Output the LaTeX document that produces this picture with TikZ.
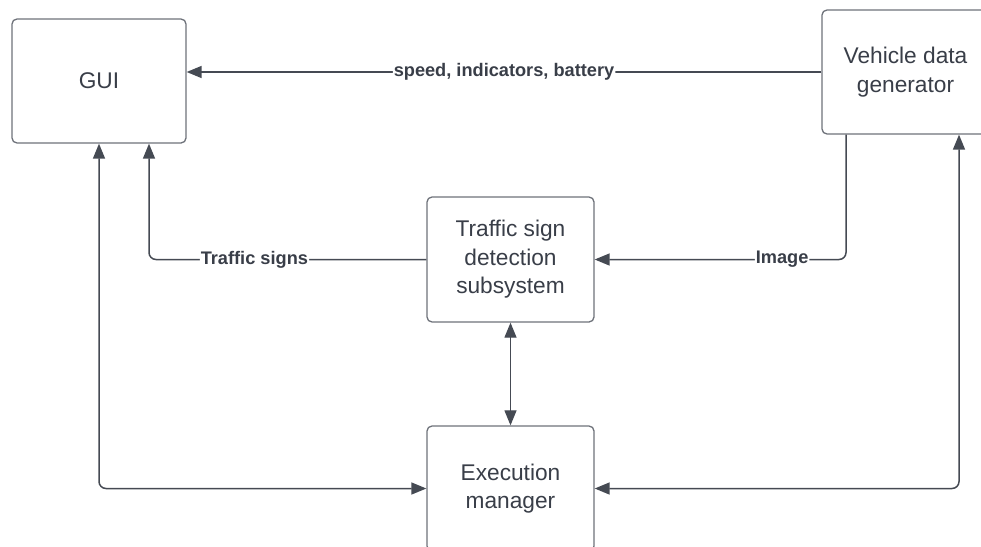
\documentclass[tikz,border=0pt]{standalone}
\usepackage{fontspec}
\setmainfont{Liberation Sans}
\usetikzlibrary{arrows.meta}
\definecolor{boxline}{HTML}{6E727A}
\definecolor{conline}{HTML}{454A53}
\definecolor{txt}{HTML}{393E48}
\tikzset{
  x=1pt, y=1pt,
  blk/.style={draw=boxline, line width=1.3pt, rounded corners=5pt, fill=white,
    minimum width=167pt, minimum height=125pt, align=center, text=txt,
    font=\fontsize{22.7}{28.5}\selectfont, inner sep=0pt},
  con/.style={draw=conline, line width=1.5pt, rounded corners=7pt},
  tip/.style={-{Triangle[length=15pt,width=12pt]}},
  ttip/.style={{Triangle[length=15pt,width=12pt]}-{Triangle[length=15pt,width=12pt]}},
  lbl/.style={fill=white, text=txt, font=\fontsize{18.2}{20}\selectfont\bfseries, inner sep=1pt}
}
\begin{document}
\begin{tikzpicture}
\useasboundingbox (0,0) rectangle (981,-546);
\clip (0,0) rectangle (981,-546);
\node[blk, minimum width=174pt, minimum height=124pt] (gui) at (99,-81) {GUI};
\node[blk, minimum height=124pt] (vdg) at (905.5,-72) {Vehicle data\\generator};
\node[blk] (tsd) at (510.5,-259.5) {Traffic sign\\detection\\subsystem};
\node[blk] (em) at (510.5,-488.5) {Execution\\manager};

\draw[con, tip] (vdg.west) -- node[lbl] {speed, indicators, battery} (gui.east |- vdg.west);
\draw[con, tip] ([xshift=-59.5pt]vdg.south) |- node[lbl, pos=0.627] {Image} (tsd.east);
\draw[con, tip] (tsd.west) -| node[lbl, pos=0.31] {Traffic signs} ([xshift=50pt]gui.south);
\draw[con, ttip, line width=1.2pt] (tsd.south) -- (em.north);
\draw[con, ttip] (gui.south) |- (em.west);
\draw[con, ttip] (em.east) -| ([xshift=53.5pt]vdg.south);
\end{tikzpicture}
\end{document}
